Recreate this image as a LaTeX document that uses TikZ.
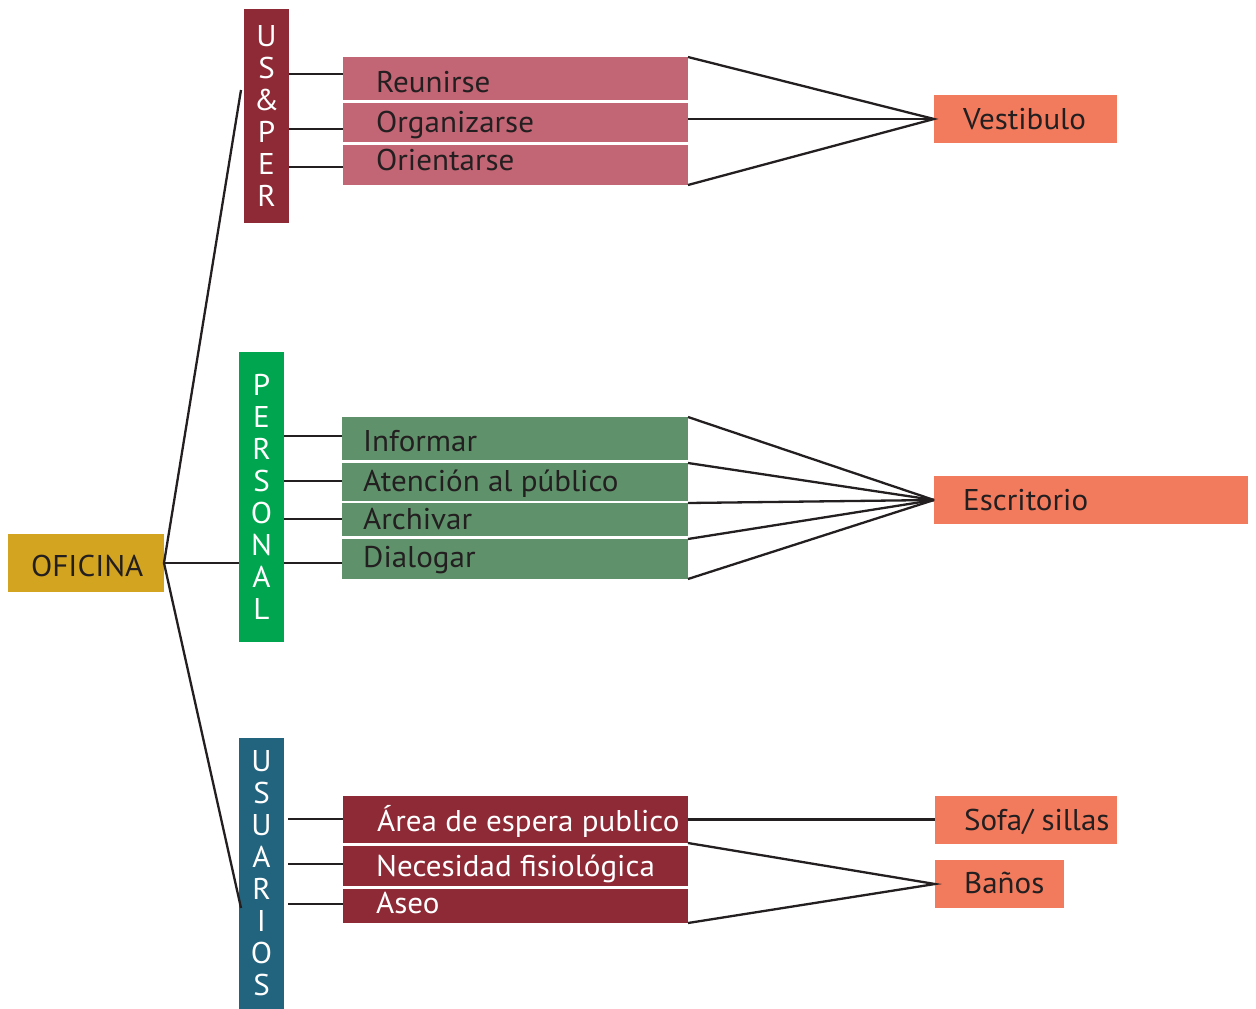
\documentclass[tikz,border=0pt]{standalone}
\usepackage{fontspec}
\setmainfont[FakeStretch=1.035]{PT Sans}
\definecolor{gold}{HTML}{D2A41F}
\definecolor{wine}{HTML}{8E2936}
\definecolor{pinkc}{HTML}{C26574}
\definecolor{greenbar}{HTML}{00A64F}
\definecolor{greenrow}{HTML}{5F926B}
\definecolor{bluebar}{HTML}{22637D}
\definecolor{orangec}{HTML}{F27B5E}
\definecolor{ink}{HTML}{231F20}
\begin{document}
\begin{tikzpicture}[x=1pt,y=-1pt,
  txt/.style={font=\fontsize{30pt}{32pt}\selectfont},
  box/.style={draw=none, inner sep=0pt, outer sep=0pt},
  bar/.style={box, txt, text=white, align=center, minimum width=45pt},
  rowbox/.style={box, minimum width=345pt},
  rowtext/.style={txt, anchor=base west, inner sep=0pt, text=ink},
  target/.style={box, fill=orangec},
  conn/.style={draw=ink, line width=2.3pt}]
\useasboundingbox (0,0) rectangle (1256,1009);

% root
\node[box, fill=gold, minimum width=156pt, minimum height=58pt] (ofi) at (86,563) {};
\node[rowtext] (ofit) at (31,576) {OFICINA};

% bars
\node[bar, fill=wine, minimum height=214pt] (usper) at (266.5,116) {U\\S\\\&\\P\\E\\R};
\node[bar, fill=greenbar, minimum height=290pt] (pers) at (261.5,497) {P\\E\\R\\S\\O\\N\\A\\L};
\node[bar, fill=bluebar, minimum height=271pt] (usu) at (261.5,873.5) {U\\S\\U\\A\\R\\I\\O\\S};

% pink rows
\node[rowbox, fill=pinkc, minimum height=43pt] (p1) at (515.5,78.5) {};
\node[rowbox, fill=pinkc, minimum height=39pt] (p2) at (515.5,122.5) {};
\node[rowbox, fill=pinkc, minimum height=40pt] (p3) at (515.5,165) {};
\node[rowtext] (p1t) at (376,92) {Reunirse};
\node[rowtext] (p2t) at (376,132) {Organizarse};
\node[rowtext] (p3t) at (376,170) {Orientarse};

% green rows
\node[rowbox, fill=greenrow, minimum width=346pt, minimum height=43pt] (g1) at (515,438.5) {};
\node[rowbox, fill=greenrow, minimum width=346pt, minimum height=38pt] (g2) at (515,482) {};
\node[rowbox, fill=greenrow, minimum width=346pt, minimum height=33pt] (g3) at (515,519.5) {};
\node[rowbox, fill=greenrow, minimum width=346pt, minimum height=40pt] (g4) at (515,559) {};
\node[rowtext] (g1t) at (363,451) {Informar};
\node[rowtext] (g2t) at (363,491) {Atención al público};
\node[rowtext] (g3t) at (363,529) {Archivar};
\node[rowtext] (g4t) at (363,567) {Dialogar};

% wine rows
\node[rowbox, fill=wine, minimum height=47pt] (a1) at (515.5,819.5) {};
\node[rowbox, fill=wine, minimum height=40pt] (a2) at (515.5,866) {};
\node[rowbox, fill=wine, minimum height=34pt] (a3) at (515.5,906) {};
\node[rowtext, text=white] (a1t) at (377,831) {Área de espera publico};
\node[rowtext, text=white] (a2t) at (376,876) {Necesidad fisiológica};
\node[rowtext, text=white] (a3t) at (376,913) {Aseo};

% targets
\node[target, minimum width=183pt, minimum height=48pt] (vest) at (1025.5,119) {};
\node[rowtext] (vestt) at (963,129) {Vestibulo};
\node[target, minimum width=314pt, minimum height=48pt] (esc) at (1091,500) {};
\node[rowtext] (esct) at (963,510) {Escritorio};
\node[target, minimum width=182pt, minimum height=48pt] (sofa) at (1026,819.5) {};
\node[rowtext] (sofat) at (964,830) {Sofa/ sillas};
\node[target, minimum width=129pt, minimum height=48pt] (banos) at (999.5,884) {};
\node[rowtext] (banost) at (964,893) {Baños};

% free ends of root branches
\coordinate (topend) at (241,90);
\coordinate (botend) at (241,908);

% root connectors
\draw[conn] (topend) -- (ofi.east) -- (botend);
\draw[conn] (ofi.east) -- (pers.west |- ofi.east);

% bar to rows
\draw[conn] (usper.east |- 0,74) -- (p1.west |- 0,74);
\draw[conn] (usper.east |- 0,129) -- (p2.west |- 0,129);
\draw[conn] (usper.east |- 0,167) -- (p3.west |- 0,167);
\draw[conn] (pers.east |- 0,436) -- (g1.west |- 0,436);
\draw[conn] (pers.east |- 0,481) -- (g2.west |- 0,481);
\draw[conn] (pers.east |- 0,519) -- (g3.west |- 0,519);
\draw[conn] (pers.east |- 0,563) -- (g4.west |- 0,563);
\draw[conn] (288,819) -- (a1.west |- 0,819);
\draw[conn] (288,864) -- (a2.west |- 0,864);
\draw[conn] (288,904) -- (a3.west |- 0,904);

% rows to targets
\draw[conn] (p1.north east) -- (vest.west) -- (p3.south east);
\draw[conn] (p2.east |- vest.west) -- (vest.west);
\draw[conn] (g1.north east) -- (esc.west);
\draw[conn] (g2.north east) -- (esc.west);
\draw[conn] (g3.north east) -- (esc.west);
\draw[conn] (g4.north east) -- (esc.west);
\draw[conn] (g4.south east) -- (esc.west);
\draw[conn] (a1.east) -- (sofa.west);
\draw[conn] (a1.south east) -- (banos.west) -- (a3.south east);
\end{tikzpicture}
\end{document}
